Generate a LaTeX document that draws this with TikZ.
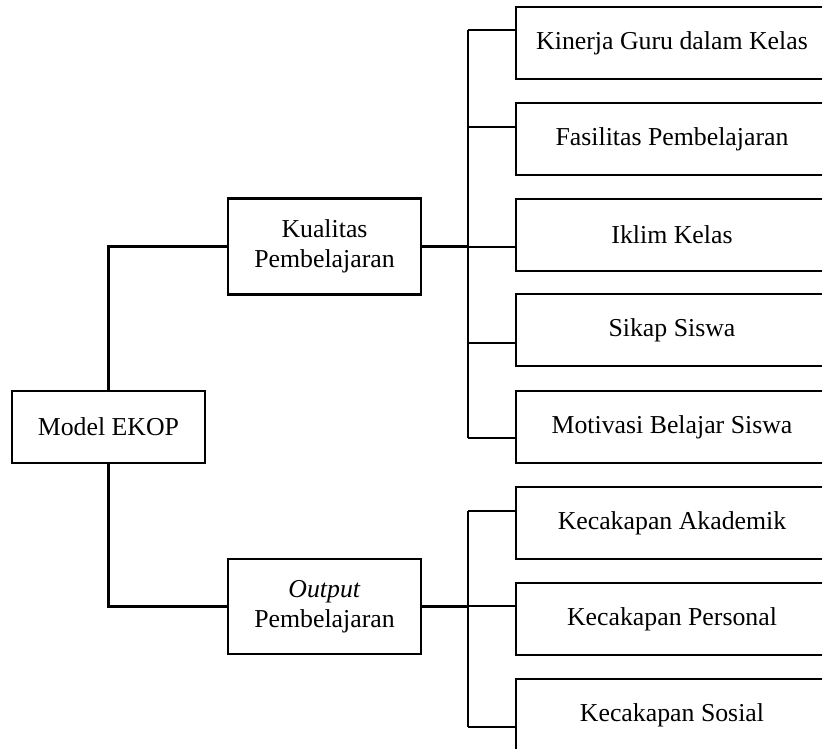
\documentclass[tikz,border=0pt]{standalone}
\usepackage{fontspec}
\setmainfont{Liberation Serif}
\begin{document}
\begin{tikzpicture}[x=1pt,y=-1pt,
  box/.style={draw,line width=2.2pt,inner sep=0pt,align=center,font=\fontsize{25.8}{30}\selectfont},
  leaf/.style={box,minimum width=312pt,minimum height=72pt},
  mid/.style={box,minimum width=193pt,minimum height=96pt},
  conn/.style={line width=2.2pt}]
\useasboundingbox (0,0) rectangle (822,749);
\clip (0,0) rectangle (822,749);
% main nodes
\node[box,minimum width=193pt,minimum height=72pt] (ekop) at (108.5,427) {Model EKOP};
\node[mid] (kual) at (324.5,246.5) {Kualitas\\Pembelajaran};
\node[mid,minimum height=95pt] (out) at (324.5,606.5) {\textit{Output}\\Pembelajaran};
% leaves
\node[leaf] (l1) at (672,43) {Kinerja Guru dalam Kelas};
\node[leaf] (l2) at (672,139) {Fasilitas Pembelajaran};
\node[leaf] (l3) at (672,235) {Iklim Kelas};
\node[leaf] (l4) at (672,330) {Sikap Siswa};
\node[leaf] (l5) at (672,427) {Motivasi Belajar Siswa};
\node[leaf] (l6) at (672,523) {Kecakapan Akademik};
\node[leaf] (l7) at (672,619) {Kecakapan Personal};
\node[leaf] (l8) at (672,715) {Kecakapan Sosial};
% trunk coordinates
\coordinate (t1) at (468,30);
\coordinate (t2) at (468,127);
\coordinate (t3) at (468,247);
\coordinate (t4) at (468,343);
\coordinate (t5) at (468,438);
\coordinate (t6) at (468,511);
\coordinate (t7) at (468,606);
\coordinate (t8) at (468,727);
% connectors
\draw[conn] (ekop.north) |- (kual.west);
\draw[conn] (ekop.south) |- (out.west);
\draw[conn] (kual.east) -- (kual.east -| t3);
\draw[conn] (out.east) -- (out.east -| t7);
\draw[conn] (t1) -- (t5);
\draw[conn] (t6) -- (t8);
\foreach \i in {1,...,8} {\draw[conn] (t\i) -- (t\i -| l\i.west);}
\end{tikzpicture}
\end{document}
